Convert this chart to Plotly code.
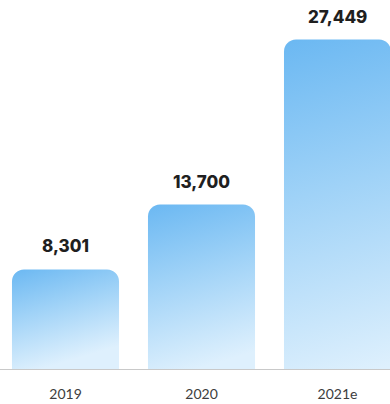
import plotly.graph_objects as go

# Annual figures (2021 is an estimate)
years = ["2019", "2020", "2021e"]
values = [8301, 13700, 27449]
value_labels = ["8,301", "13,700", "27,449"]

fig = go.Figure(
    go.Bar(
        x=years,
        y=values,
        width=0.787,
        marker=dict(color="#8cc8f5", line=dict(width=0)),
        hoverinfo="skip",
    )
)

# Bold value labels floating above each bar (x given as category index)
for i, (v, lab) in enumerate(zip(values, value_labels)):
    fig.add_annotation(
        x=i, y=v, text=lab, showarrow=False,
        xref="x", yref="y",
        yanchor="bottom", yshift=11,
        font=dict(family="Inter", size=17, color="#1f1f1f", weight=800),
    )

fig.update_layout(
    width=390, height=404,
    margin=dict(l=0, r=0, t=0, b=35),
    paper_bgcolor="white", plot_bgcolor="white",
    barcornerradius=12,
    showlegend=False,
    xaxis=dict(
        type="category",
        range=[-0.4816, 2.386],
        showgrid=False, zeroline=False,
        showline=True, linecolor="#c9c9c9", linewidth=1,
        ticks="", ticklabelstandoff=12,
        tickfont=dict(family="Lato", size=14, color="#3d3d3d"),
        fixedrange=True,
    ),
    yaxis=dict(
        range=[0, 30750], visible=False, showgrid=False, zeroline=False,
        fixedrange=True,
    ),
)

# Light-blue gradient per bar: deeper blue at the top-left fading to pale at the bottom
post = """
var gd = document.getElementById('{plot_id}');
function paintBars(){
  var svg = gd.querySelector('svg.main-svg');
  if(!svg) return;
  var ns = 'http://www.w3.org/2000/svg';
  var defs = svg.querySelector('defs') || svg.insertBefore(document.createElementNS(ns,'defs'), svg.firstChild);
  gd.querySelectorAll('.bars .point path').forEach(function(p, i){
    var b = p.getBBox();
    var id = 'barGrad' + i;
    var old = document.getElementById(id);
    if(old) old.parentNode.removeChild(old);
    var g = document.createElementNS(ns,'linearGradient');
    g.setAttribute('id', id);
    g.setAttribute('gradientUnits', 'userSpaceOnUse');
    g.setAttribute('x1', b.x); g.setAttribute('y1', b.y);
    g.setAttribute('x2', b.x + 0.3 * b.height); g.setAttribute('y2', b.y + b.height);
    [['0','#6bb8f2'],['0.45','#9fd2f7'],['1','#def0fd']].forEach(function(s){
      var st = document.createElementNS(ns,'stop');
      st.setAttribute('offset', s[0]);
      st.setAttribute('stop-color', s[1]);
      g.appendChild(st);
    });
    defs.appendChild(g);
    p.style.fill = 'url(#' + id + ')';
  });
}
paintBars();
gd.on('plotly_afterplot', paintBars);
"""

fig.write_html("out.html", config={"displayModeBar": False}, post_script=post)
